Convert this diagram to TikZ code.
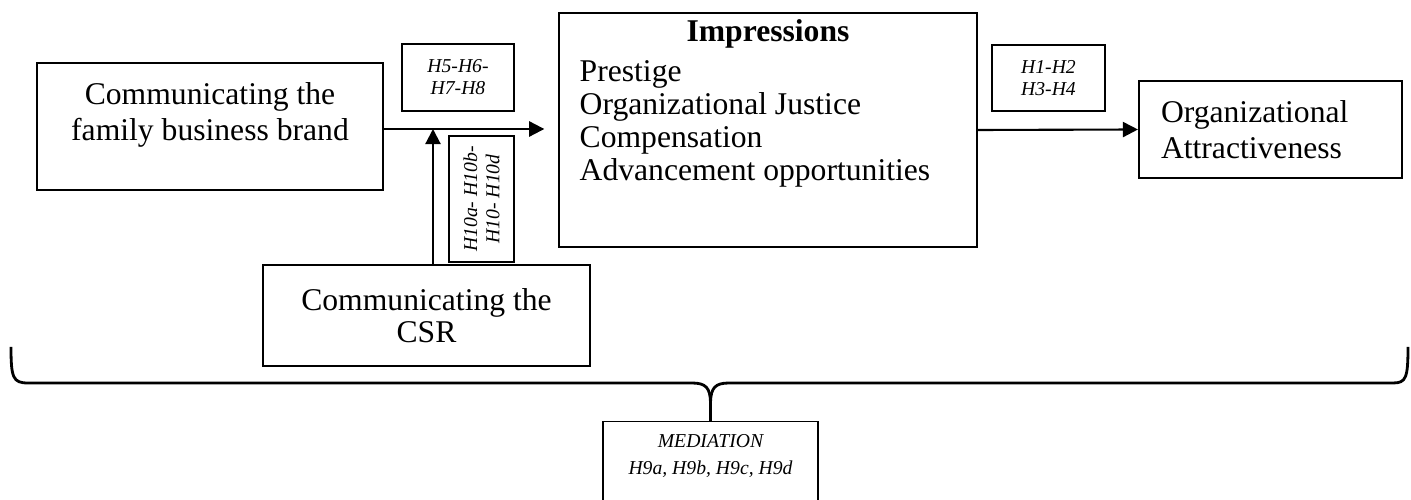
\documentclass[tikz,border=0pt]{standalone}
\usepackage{fontspec}
\setmainfont{Liberation Serif}
\usepackage{tikz}
\usetikzlibrary{arrows.meta, positioning}
\tikzset{
  cbox/.style={draw, line width=0.4pt, inner sep=0pt, align=center,
               font=\fontsize{9}{10}\selectfont},
  ctxt/.style={inner sep=0pt, align=center, font=\fontsize{9}{10}\selectfont},
  hbox/.style={draw, line width=0.4pt, inner sep=0pt, align=center,
               font=\fontsize{5.6}{6.3}\selectfont\itshape},
  harrow/.style={-{Triangle[length=4.3pt, width=4.3pt]}, line width=0.6pt},
  brace/.style={line width=0.8pt},
}
\begin{document}
\begin{tikzpicture}
    \useasboundingbox (0,0) rectangle (14.11,-5.00);
    % left column
    \node[cbox, minimum width=3.46cm, minimum height=1.27cm] (brand) at (2.10,-1.265) {};
    \node[ctxt, below=0.20cm of brand.north] (brandtxt) {Communicating the\\family business brand};
    \node[cbox, minimum width=3.27cm, minimum height=1.01cm,
          font=\fontsize{9}{9.2}\selectfont] (csr) at (4.265,-3.155) {Communicating the\\CSR};
    \node[hbox, minimum width=1.12cm, minimum height=0.67cm] (h5) at (4.58,-0.775) {H5-H6-\\H7-H8};
    \node[hbox, rotate=90, minimum width=1.26cm, minimum height=0.65cm] (h10) at (4.815,-1.99) {H10a- H10b-\\H10- H10d};
    % impressions
    \node[cbox, minimum width=4.18cm, minimum height=2.34cm] (imp) at (7.68,-1.30) {};
    \node[ctxt, font=\fontsize{9}{10}\selectfont\bfseries, below=0.07cm of imp.north] (imptitle) {Impressions};
    \node[ctxt, align=left, anchor=north west, font=\fontsize{9}{9.4}\selectfont] (implist) at (5.79,-0.60)
         {Prestige\\Organizational Justice\\Compensation\\Advancement opportunities};
    % outcome
    \node[hbox, minimum width=1.13cm, minimum height=0.66cm] (h1) at (10.485,-0.78) {H1-H2\\H3-H4};
    \node[cbox, line width=0.6pt, align=left, text width=2.19cm, inner xsep=0.22cm,
          minimum height=0.97cm, font=\fontsize{9}{10.2}\selectfont] (org) at (12.705,-1.295)
         {Organizational\\Attractiveness};
    % arrows
    \coordinate (junc) at (4.33,-1.29);
    \draw[harrow, shorten >=0.14cm] (brand.east |- junc) -- (junc -| imp.west);
    \draw[harrow] (csr.north -| junc) -- (junc);
    \draw[harrow] (imp.east) -- (org.west);
    % mediation
    \node[hbox, minimum width=2.15cm, minimum height=0.90cm, anchor=north] (med) at (7.105,-4.21) {};
    \node[ctxt, font=\fontsize{5.6}{7.7}\selectfont\itshape, below=0.13cm of med.north] (medtxt)
         {MEDIATION\\H9a, H9b, H9c, H9d};
    \coordinate (bl) at (0.11,-3.47);
    \coordinate (br) at (14.08,-3.47);
    \draw[brace] (bl) .. controls (0.11,-3.78) and (0.13,-3.83) .. (0.28,-3.83) -- (6.92,-3.83)
                 .. controls (7.06,-3.83) and (7.10,-3.88) .. (7.105,-4.02) -- (med.north);
    \draw[brace] (br) .. controls (14.08,-3.78) and (14.06,-3.83) .. (13.93,-3.83) -- (7.29,-3.83)
                 .. controls (7.15,-3.83) and (7.11,-3.88) .. (7.105,-4.02) -- (med.north);
\end{tikzpicture}
\end{document}
